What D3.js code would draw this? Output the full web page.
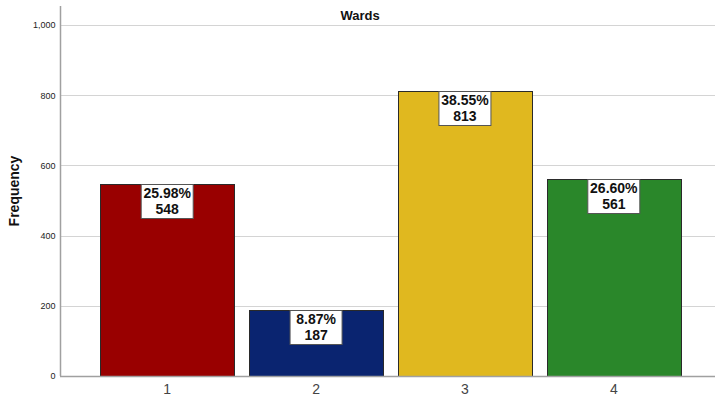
<!DOCTYPE html>
<html><head><meta charset="utf-8">
<script src="https://cdn.jsdelivr.net/npm/d3@7"></script>
<style>body{margin:0;background:#fff}svg{display:block}</style>
</head><body>
<svg id="c" width="715" height="400"></svg>
<script>
const categories = ["1","2","3","4"];
const frequencies = [548,187,813,561];
const percents = ["25.98%","8.87%","38.55%","26.60%"];
const barColors = ["#990000","#0a2470","#e0b81f","#2a872a"];
const yTicks = [0,200,400,600,800,1000];
const title = "Wards";
const yLabel = "Frequency";

(function(){
const svg = d3.select("#c");
const pLeft = 60, pRight = 721, pTop = 6, pBottom = 376;
const x = d3.scaleBand().domain(categories).range([pLeft,pRight]).paddingInner(0.1).paddingOuter(0.27);
const y = d3.scaleLinear().domain([0,1054]).range([pBottom,pTop]);

// gridlines
svg.append("g").selectAll("line").data(yTicks.filter(d=>d>0)).join("line")
  .attr("x1",pLeft).attr("x2",715).attr("y1",d=>Math.round(y(d))+0.5).attr("y2",d=>Math.round(y(d))+0.5)
  .attr("stroke","#d4d4d4").attr("stroke-width",1);

// bars
svg.append("g").selectAll("rect").data(categories).join("rect")
  .attr("x",d=>Math.round(x(d))+0.5).attr("width",Math.round(x.bandwidth()))
  .attr("y",(d,i)=>Math.round(y(frequencies[i]))+0.5)
  .attr("height",(d,i)=>Math.round(pBottom)-Math.round(y(frequencies[i])))
  .attr("fill",(d,i)=>barColors[i]).attr("stroke","#2a2a2a").attr("stroke-width",1);

// axes
const yAxis = d3.axisLeft(y).tickValues(yTicks).tickSize(0).tickPadding(5).tickFormat(d3.format(","));
const gy = svg.append("g").attr("transform",`translate(${pLeft+0.5},0)`).call(yAxis);
gy.select(".domain").attr("stroke","#a0a0a0").attr("stroke-width",1.5).attr("d",`M0,${pTop}V${pBottom}`);
gy.selectAll("text").attr("font-family","Arial, 'Liberation Sans', sans-serif").attr("font-size",9).attr("fill","#222");

const xAxis = d3.axisBottom(x).tickSize(0).tickPadding(8);
const gx = svg.append("g").attr("transform",`translate(0,${pBottom+0.5})`).call(xAxis);
gx.select(".domain").attr("stroke","#a0a0a0").attr("stroke-width",1.5).attr("d",`M${pLeft},0H715`);
gx.selectAll("text").attr("font-family","Arial, 'Liberation Sans', sans-serif").attr("font-size",14).attr("fill","#444");

// labels
const lab = svg.append("g").selectAll("g").data(categories).join("g")
  .attr("transform",(d,i)=>`translate(${x(d)+x.bandwidth()/2},${Math.round(y(frequencies[i]))})`);
lab.append("rect").attr("x",-26).attr("y",0.5).attr("width",52).attr("height",34)
  .attr("fill","#fff").attr("stroke","#555").attr("stroke-width",1);
lab.append("text").attr("y",14).attr("text-anchor","middle")
  .attr("font-family","Arial, 'Liberation Sans', sans-serif").attr("font-weight","bold").attr("font-size",14).attr("fill","#111")
  .text((d,i)=>percents[i]);
lab.append("text").attr("y",30).attr("text-anchor","middle")
  .attr("font-family","Arial, 'Liberation Sans', sans-serif").attr("font-weight","bold").attr("font-size",14).attr("fill","#111")
  .text((d,i)=>frequencies[i]);

// title
svg.append("text").attr("x",360).attr("y",20).attr("text-anchor","middle")
  .attr("font-family","Arial, 'Liberation Sans', sans-serif").attr("font-weight","bold").attr("font-size",13).attr("fill","#111").text(title);
svg.append("text").attr("transform",`translate(19,191) rotate(-90)`).attr("text-anchor","middle")
  .attr("font-family","Arial, 'Liberation Sans', sans-serif").attr("font-weight","bold").attr("font-size",14).attr("fill","#111").text(yLabel);
})();
</script>
</body></html>
